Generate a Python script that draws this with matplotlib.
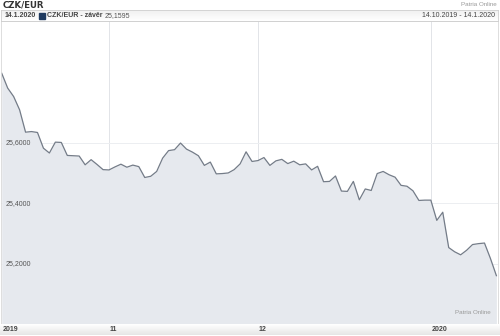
import numpy as np
import matplotlib
matplotlib.use("Agg")
import matplotlib.pyplot as plt
from matplotlib.patches import Rectangle

plt.rcParams["font.family"] = ["Liberation Sans", "DejaVu Sans"]

# CZK/EUR zaverecne kurzy 14.10.2019 - 14.1.2020
kurz = [25.830, 25.781, 25.753, 25.709, 25.635, 25.637, 25.634, 25.582, 25.566, 25.602,
        25.601, 25.558, 25.557, 25.556, 25.527, 25.544, 25.528, 25.511, 25.510, 25.520,
        25.529, 25.519, 25.526, 25.521, 25.485, 25.489, 25.505, 25.549, 25.574, 25.577,
        25.599, 25.579, 25.569, 25.557, 25.525, 25.536, 25.497, 25.498, 25.500, 25.511,
        25.530, 25.570, 25.538, 25.541, 25.551, 25.525, 25.540, 25.545, 25.531, 25.539,
        25.527, 25.530, 25.510, 25.522, 25.471, 25.472, 25.490, 25.440, 25.439, 25.472,
        25.411, 25.447, 25.442, 25.498, 25.505, 25.494, 25.486, 25.459, 25.456, 25.441,
        25.409, 25.410, 25.410, 25.343, 25.370, 25.253, 25.239, 25.229, 25.244, 25.263,
        25.266, 25.268, 25.217, 25.160]
mesic_idx = [0, 18, 43, 72]
mesic_txt = ["2019", "11", "12", "2020"]
y_ticks = [25.2, 25.4, 25.6]
y_txt = ["25,2000", "25,4000", "25,6000"]

W, H = 500, 336
fig = plt.figure(figsize=(W / 100, H / 100), dpi=100)

def rect(x0, y0, x1, y1):
    # pixely (od horniho okraje) -> souradnice figury
    return [x0 / W, 1 - y1 / H, (x1 - x0) / W, (y1 - y0) / H]

x = np.arange(len(kurz))

ax = fig.add_axes(rect(1, 21, 498, 324))
ax.fill_between(x, kurz, 24.9, color="#e6e9ee", lw=0)
ax.plot(x, kurz, color="#747c88", lw=0.9)
ax.set_xlim(-0.12, 83.27)
ax.set_ylim(25.0, 26.003)
for i in mesic_idx[1:]:
    ax.axvline(i, color="#e2e4e8", lw=0.7, zorder=0.5)
for v in y_ticks:
    ax.axhline(v, color="#eceef1", lw=0.7, zorder=0.5)
for v, t in zip(y_ticks, y_txt):
    ax.text(3.5 / 5.96, v, t, fontsize=5, color="#555555", va="center", ha="left")
ax.text(0.985, 0.03, "Patria Online", transform=ax.transAxes, fontsize=4.5,
        color="#9a9a9a", ha="right", va="bottom")
ax.set_xticks([])
ax.set_yticks([])
for s in ax.spines.values():
    s.set_color("#d8d8d8")
    s.set_linewidth(0.6)

# spodni lista s mesici
bx = fig.add_axes(rect(0, 324, 500, 335))
grad = np.linspace(1.0, 0.9, 20).reshape(-1, 1)
bx.imshow(grad, cmap="gray", vmin=0, vmax=1, aspect="auto", extent=[0, 1, 0, 1])
bx.set_xlim(0, 1)
bx.set_ylim(0, 1)
bx.axis("off")
for i, t in zip(mesic_idx, mesic_txt):
    px = 1.7 + i * 5.96
    fig.text((px + 1) / W, 1 - 329.5 / H, t, fontsize=5, fontweight="bold",
             color="#444444", ha="left", va="center")

# hlavicka
hx = fig.add_axes(rect(1, 10, 498, 21))
grad2 = np.linspace(0.94, 1.0, 20).reshape(-1, 1)
hx.imshow(grad2, cmap="gray", vmin=0, vmax=1, aspect="auto", extent=[0, 1, 0, 1])
hx.set_xlim(0, 1)
hx.set_ylim(0, 1)
hx.set_xticks([])
hx.set_yticks([])
for s in hx.spines.values():
    s.set_color("#cfcfcf")
    s.set_linewidth(0.6)

fig.text(3 / W, 1 - 5 / H, "CZK/EUR", fontsize=6.2, fontweight="bold", color="#333333",
         ha="left", va="center", family="DejaVu Sans")
fig.text(497 / W, 1 - 5 / H, "Patria Online", fontsize=4.5, color="#9a9a9a",
         ha="right", va="center")

# texty v hlavicce za sebou
ty = 1 - 15.5 / H
r = fig.canvas.get_renderer()
casti = [("14.1.2020", "bold", "#444444"), (None, None, None),
         ("CZK/EUR - závěr", "bold", "#444444"), ("25,1595", "normal", "#555555")]
px = 5
for t, w, c in casti:
    if t is None:
        fig.patches.append(Rectangle(((px + 1) / W, 1 - 18.5 / H), 5.5 / W, 5.5 / H,
                                     transform=fig.transFigure, color="#1f3a5f"))
        px += 8.5
        continue
    tx = fig.text(px / W, ty, t, fontsize=5, fontweight=w, color=c, ha="left", va="center")
    px += tx.get_window_extent(r).width + 2
fig.text(495 / W, ty, "14.10.2019 - 14.1.2020", fontsize=5, color="#444444",
         ha="right", va="center")

fig.savefig("out.png", dpi=100)
plt.close(fig)
